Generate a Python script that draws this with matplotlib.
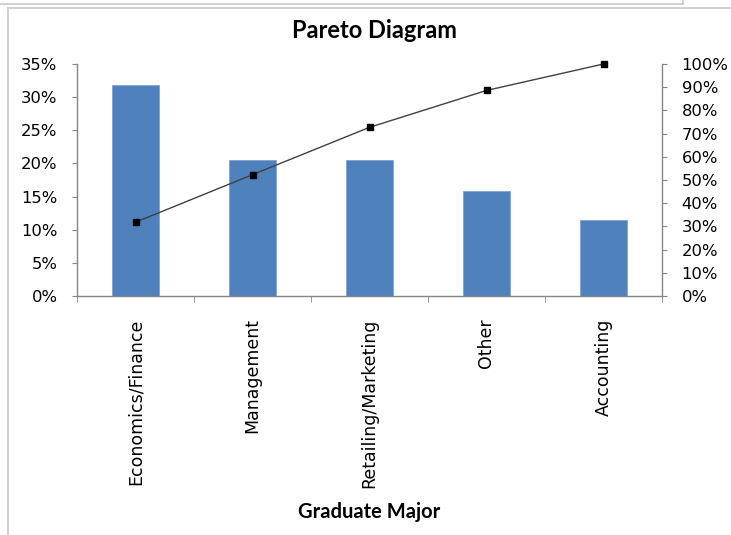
import matplotlib
matplotlib.use("Agg")
import matplotlib.pyplot as plt
from matplotlib.ticker import PercentFormatter, MultipleLocator
from matplotlib.lines import Line2D

plt.rcParams["font.family"] = ["DejaVu Sans"]

categories = ["Economics/Finance", "Management", "Retailing/Marketing", "Other", "Accounting"]
share_pct = [31.8, 20.5, 20.5, 15.9, 11.4]
cumulative_pct = [31.8, 52.3, 72.7, 88.6, 100.0]
title = "Pareto Diagram"
xlabel = "Graduate Major"

fig = plt.figure(figsize=(7.31, 5.35), dpi=100)
W, H = 731, 535
ax = fig.add_axes([77 / W, 1 - 296 / H, (662 - 77) / W, (296 - 64) / H])

axis_col = "#868686"
x = list(range(len(categories)))
ax.bar(x, share_pct, width=0.4, color="#4F81BD", edgecolor="#7FA3D3", linewidth=0.6, zorder=2)
ax.set_xlim(-0.5, len(categories) - 0.5)
ax.set_ylim(0, 35)
ax.yaxis.set_major_locator(MultipleLocator(5))
ax.yaxis.set_major_formatter(PercentFormatter(decimals=0))

ax2 = ax.twinx()
ax2.plot(x, cumulative_pct, color="#404040", linewidth=1.0, marker="s",
         markersize=4, markerfacecolor="black", markeredgecolor="black", zorder=3, clip_on=False)
ax2.set_ylim(0, 100)
ax2.yaxis.set_major_locator(MultipleLocator(10))
ax2.yaxis.set_major_formatter(PercentFormatter(decimals=0))

for a in (ax, ax2):
    a.spines["top"].set_visible(False)
    for s in ("left", "right", "bottom"):
        a.spines[s].set_color(axis_col)
        a.spines[s].set_linewidth(1.0)
ax.spines["right"].set_visible(False)
ax2.spines["left"].set_visible(False)
ax2.spines["bottom"].set_visible(False)

ax.tick_params(axis="y", direction="out", length=3.6, color=axis_col, labelsize=11.8, pad=10.5, labelcolor="black")
ax2.tick_params(axis="y", direction="out", length=3.6, color=axis_col, labelsize=11.8, pad=10.5, labelcolor="black")

# category labels centred on bars, ticks at category boundaries
ax.set_xticks(x)
ax.set_xticklabels(categories, rotation=90, fontsize=12.5, va="top", ha="center")
ax.tick_params(axis="x", which="major", length=0, pad=16)
ax.set_xticks([i + 0.5 for i in range(-1, len(categories))], minor=True)
ax.tick_params(axis="x", which="minor", direction="out", length=4, color=axis_col)

fig.text(374 / W, 1 - 30 / H, title, ha="center", va="center",
         fontsize=17, fontweight="bold", family=["Lato", "DejaVu Sans"])
fig.text(369 / W, 1 - 512 / H, xlabel, ha="center", va="center",
         fontsize=14.5, fontweight="bold", family=["Lato", "DejaVu Sans"])

# outer frame lines of the sheet
frame_col = "#c8c8c8"
fig.add_artist(Line2D([0, 683 / W], [1 - 4 / H, 1 - 4 / H], color=frame_col, lw=1.2, transform=fig.transFigure))
fig.add_artist(Line2D([683 / W, 683 / W], [1 - 4 / H, 1], color=frame_col, lw=1.2, transform=fig.transFigure))
fig.add_artist(Line2D([8 / W, 1], [1 - 8 / H, 1 - 8 / H], color=frame_col, lw=1.2, transform=fig.transFigure))
fig.add_artist(Line2D([8 / W, 8 / W], [0, 1 - 8 / H], color=frame_col, lw=1.2, transform=fig.transFigure))

fig.savefig("out.png", dpi=100)
